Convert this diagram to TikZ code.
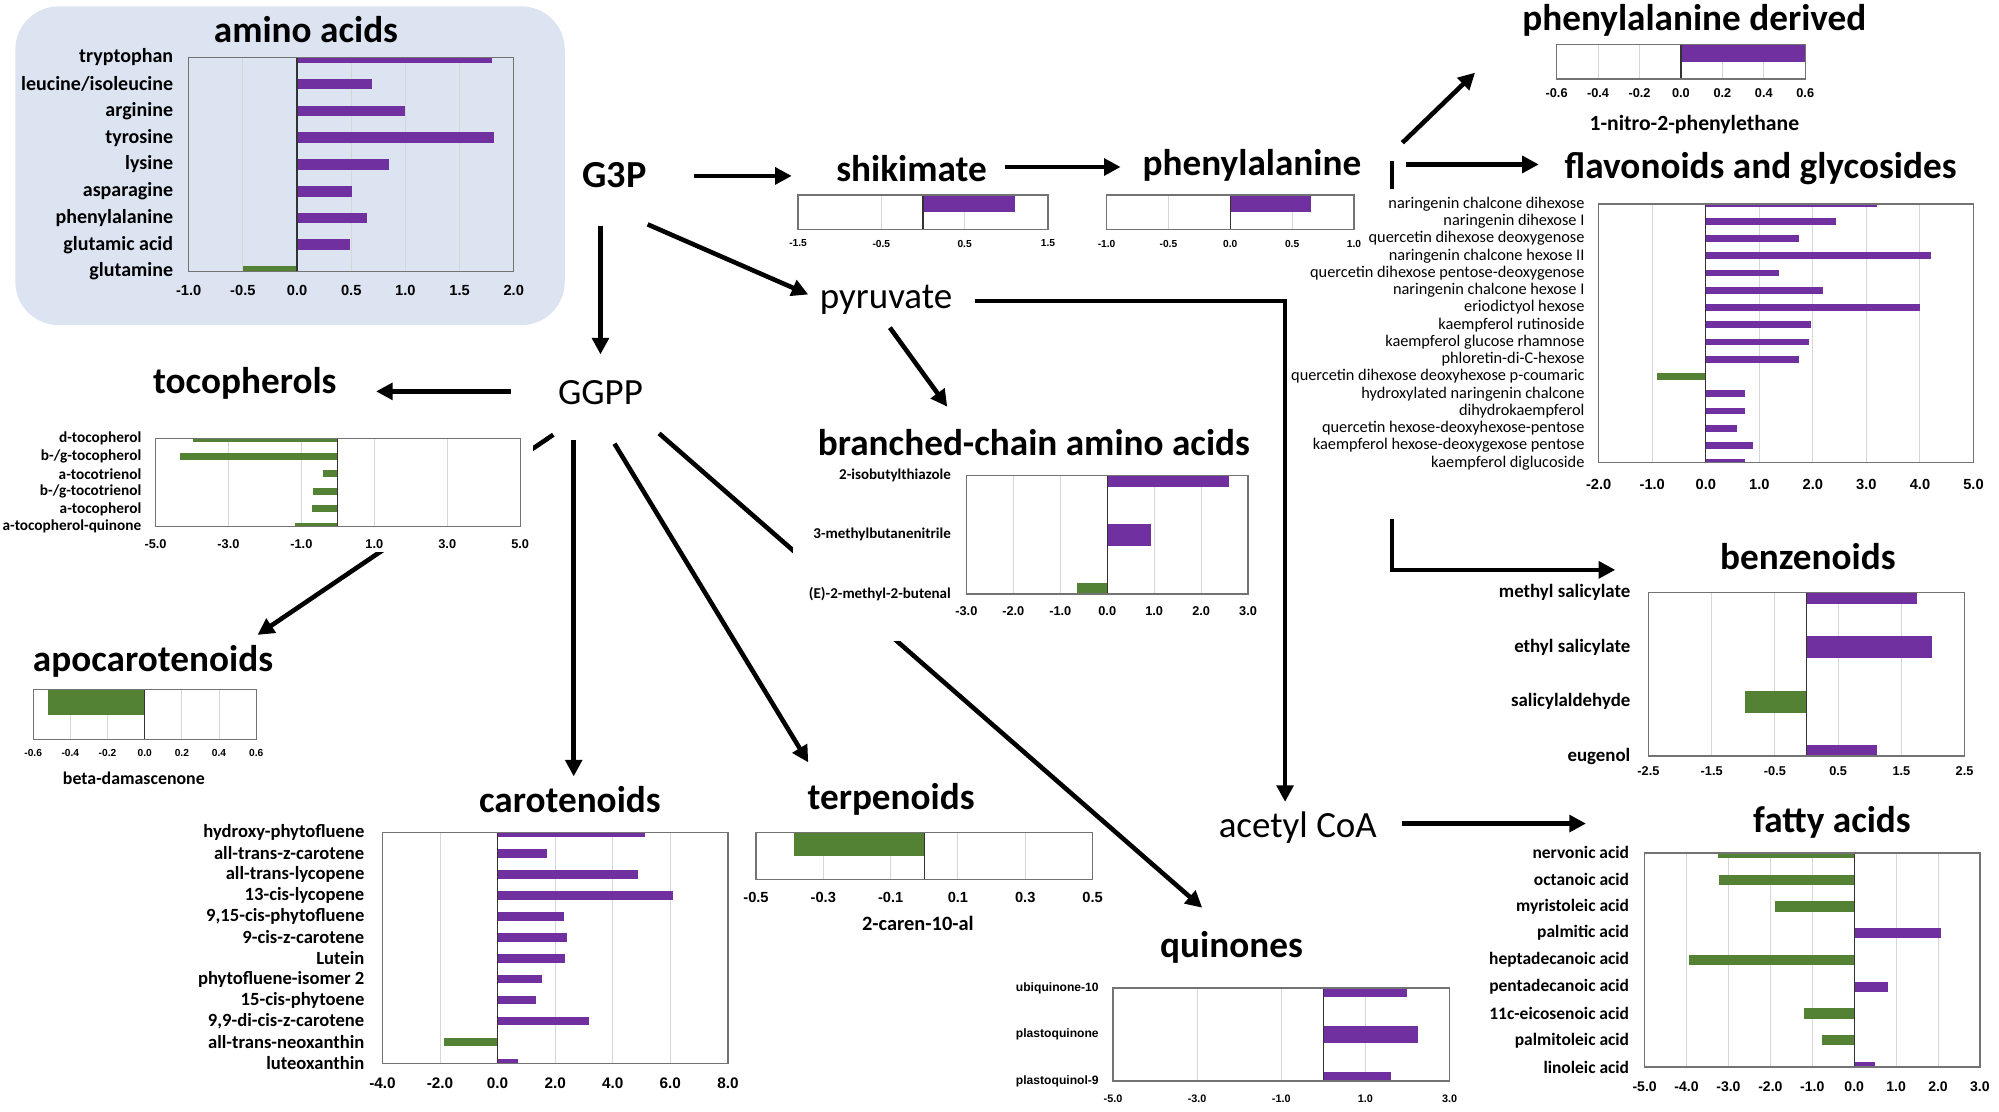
\documentclass[tikz,border=0pt]{standalone}
\usepackage{fontspec}
\setmainfont{Carlito}
\newfontfamily\arialf{Liberation Sans}
\usetikzlibrary{arrows.meta}

\definecolor{pos}{HTML}{7030A0}
\definecolor{neg}{HTML}{548235}
\definecolor{panelcol}{HTML}{DCE4F2}

\newcommand{\tkf}[1]{\arialf\bfseries\fontsize{#1}{#1}\selectfont}
\newcommand{\ctf}[1]{\bfseries\fontsize{#1}{#1}\selectfont}

\tikzset{
  flow/.style={line width=3.6pt, -{Triangle[length=13pt,width=13pt]}},
  cover/.style={fill=white},
  frame/.style={draw=black!55, line width=1pt},
  grid/.style={draw=black!16, line width=0.8pt},
  zero/.style={draw=black!80, line width=1pt},
  title/.style={font=\ctf{29.2}, inner sep=0pt, anchor=base},
  metab/.style={font=\fontsize{29}{29}\selectfont, inner sep=0pt, anchor=base},
  sub/.style={inner sep=0pt, anchor=base},
  catbase/.style={anchor=east, inner sep=0pt, xshift=-12pt},
}

% name, xmin, xmax, last row, grid, ticks, value/colour list, half bar
\newcommand{\hbars}[8]{%
  \foreach \gx in {#5} \draw[grid] (\gx,0) -- (\gx,#4);
  \begin{scope}
    \clip (#2,0) rectangle (#3,#4);
    \foreach \val/\bc [count=\i from 0] in {#7}
      \fill[fill=\bc] (0,\i-#8) rectangle (\val,\i+#8);
  \end{scope}
  \draw[zero] (0,0) -- (0,#4);
  \draw[frame] (#2,0) rectangle (#3,#4);
  \foreach \tk [count=\i] in {#6}
    \node[tick] (#1t\i) at (\tk,#4) {\tk};
}

\begin{document}
\begin{tikzpicture}[x=1pt, y=-1pt]
  \useasboundingbox (0,0) rectangle (1568,872);
  \fill[panelcol, rounded corners=34pt] (12,5) rectangle (443,255);

  % metabolites
  \node[metab, font=\ctf{30}] (g3p) at (482,147) {G3P};
  \node[metab] (ggpp) at (471,317) {GGPP};
  \node[metab] (pyr) at (695,242) {pyruvate};
  \node[metab] (acoa) at (1018,657) {acetyl CoA};

  % arrow ends
  \coordinate (g3pE) at (544,138);   \coordinate (shW) at (621,138);
  \coordinate (shE) at (788,131);    \coordinate (pheW) at (879,131);
  \coordinate (g3pS) at (471,177);   \coordinate (ggN) at (471,278);
  \coordinate (g3pSE) at (508,176);  \coordinate (pyNW) at (634,231);
  \coordinate (pyS) at (698,257);    \coordinate (bcN) at (743,319);
  \coordinate (pyE) at (765,236);    \coordinate (pyBend) at (1008,236);
  \coordinate (acN) at (1008,629);
  \coordinate (ggW) at (401,307);    \coordinate (toE) at (295,307);
  \coordinate (ggSW) at (434,341);   \coordinate (apNE) at (202,498);
  \coordinate (ggS) at (450,345);    \coordinate (caN) at (450,609);
  \coordinate (ggS2) at (482,348);   \coordinate (teN) at (634,598);
  \coordinate (ggSE) at (517,340);   \coordinate (quN) at (943,712);
  \coordinate (pheNE) at (1100,112); \coordinate (pdSW) at (1157,57);
  \coordinate (pheE) at (1103,129);  \coordinate (flW) at (1207,129);
  \coordinate (pheE2) at (1092,126); \coordinate (bzBend) at (1092,447);
  \coordinate (bzW) at (1267,447);
  \coordinate (acE) at (1100,646);   \coordinate (faW) at (1244,646);

  % arrows
  \draw[flow] (g3pE) -- (shW);
  \draw[flow] (shE) -- (pheW);
  \draw[flow] (g3pS) -- (ggN);
  \draw[flow] (g3pSE) -- (pyNW);
  \draw[flow] (pyS) -- (bcN);
  \draw[flow] (pyE) -- (pyBend) -- (acN);
  \draw[flow] (ggW) -- (toE);
  \draw[flow] (ggSW) -- (apNE);
  \draw[flow] (ggS) -- (caN);
  \draw[flow] (ggS2) -- (teN);
  \draw[flow] (ggSE) -- (quN);
  \draw[flow] (pheNE) -- (pdSW);
  \draw[flow] (pheE) -- (flW);
  \draw[flow] (pheE2) -- (bzBend) -- (bzW);
  \draw[flow] (acE) -- (faW);

  % charts hide the arrows behind them
  \fill[cover] (115,338) rectangle (418,433);
  \fill[cover] (622,362) rectangle (992,503);
  \fill[cover] (1011,148) rectangle (1562,407);

  % titles
  \node[title] (aaT) at (240,33) {amino acids};
  \node[title] (shT) at (715,142) {shikimate};
  \node[title] (pheT) at (982,138) {phenylalanine};
  \node[title] (pdT) at (1329,24) {phenylalanine derived};
  \node[title] (flT) at (1381,140) {flavonoids and glycosides};
  \node[title] (toT) at (192,309) {tocopherols};
  \node[title] (apT) at (120,527) {apocarotenoids};
  \node[title] (bcT) at (811,357) {branched-chain amino acids};
  \node[title] (bzT) at (1418,447) {benzenoids};
  \node[title] (faT) at (1437,653) {fatty acids};
  \node[title] (quT) at (966,751) {quinones};
  \node[title] (caT) at (447,637) {carotenoids};
  \node[title] (teT) at (699,635) {terpenoids};

  % amino acids
  \begin{scope}[shift={(233,45)}, x=85pt, y=-21pt,
      cat/.style={catbase, font=\ctf{15.7}}, tick/.style={yshift=-15pt, inner sep=0pt, font=\tkf{11.5}}]
    \hbars{aa}{-1}{2}{8}{-0.5,0.5,1.0,1.5}{-1.0,-0.5,0.0,0.5,1.0,1.5,2.0}
      {1.8/pos,0.69/pos,1.0/pos,1.82/pos,0.85/pos,0.51/pos,0.65/pos,0.49/pos,-0.5/neg}{0.2}
    \foreach \lab [count=\i from 0] in {tryptophan,leucine/isoleucine,arginine,tyrosine,lysine,
        asparagine,phenylalanine,glutamic acid,glutamine}
      \node[cat] (aac\i) at (-1,\i) {\lab};
  \end{scope}

  % shikimate
  \begin{scope}[shift={(724,153)}, x=65.33pt, y=-27pt,
      tick/.style={yshift=-11pt, inner sep=0pt, font=\tkf{8}}]
    \hbars{sh}{-1.5}{1.5}{1}{-0.5,0.5}{-1.5,-0.5,0.5,1.5}{1.11/pos}{0.5}
  \end{scope}

  % phenylalanine
  \begin{scope}[shift={(965,153)}, x=97pt, y=-27pt,
      tick/.style={yshift=-11pt, inner sep=0pt, font=\tkf{8}}]
    \hbars{ph}{-1}{1}{1}{-0.5,0.5}{-1.0,-0.5,0.0,0.5,1.0}{0.65/pos}{0.5}
  \end{scope}

  % phenylalanine derived
  \begin{scope}[shift={(1318.5,35)}, x=162.5pt, y=-27pt,
      tick/.style={yshift=-11pt, inner sep=0pt, font=\tkf{10}}]
    \hbars{pd}{-0.6}{0.6}{1}{-0.4,-0.2,0.2,0.4}{-0.6,-0.4,-0.2,0.0,0.2,0.4,0.6}{0.6/pos}{0.5}
  \end{scope}
  \node[sub, font=\ctf{17}] (pdS) at (1329,102) {1-nitro-2-phenylethane};

  % flavonoids and glycosides
  \begin{scope}[shift={(1338,160)}, x=42pt, y=-13.533pt,
      cat/.style={catbase, xshift=1pt, font=\fontsize{12.8}{12.8}\selectfont},
      tick/.style={yshift=-17pt, inner sep=0pt, font=\tkf{11.5}}]
    \hbars{fl}{-2}{5}{15}{-1,1,2,3,4}{-2.0,-1.0,0.0,1.0,2.0,3.0,4.0,5.0}
      {3.19/pos,2.44/pos,1.74/pos,4.21/pos,1.36/pos,2.18/pos,4.0/pos,1.96/pos,
       1.92/pos,1.74/pos,-0.91/neg,0.74/pos,0.74/pos,0.58/pos,0.89/pos,0.73/pos}{0.2}
    \foreach \lab [count=\i from 0] in {naringenin chalcone dihexose,naringenin dihexose I,
        quercetin dihexose deoxygenose,naringenin chalcone hexose II,
        quercetin dihexose pentose-deoxygenose,naringenin chalcone hexose I,eriodictyol hexose,
        kaempferol rutinoside,kaempferol glucose rhamnose,phloretin-di-C-hexose,
        quercetin dihexose deoxyhexose p-coumaric,hydroxylated naringenin chalcone,
        dihydrokaempferol,quercetin hexose-deoxyhexose-pentose,
        kaempferol hexose-deoxygexose pentose,kaempferol diglucoside}
      \node[cat] (flc\i) at (-2,\i) {\lab};
  \end{scope}

  % tocopherols
  \begin{scope}[shift={(265,344)}, x=28.6pt, y=-13.8pt,
      cat/.style={catbase, xshift=1pt, font=\ctf{12}}, tick/.style={yshift=-14pt, inner sep=0pt, font=\tkf{10}}]
    \hbars{to}{-5}{5}{5}{-3,-1,1,3}{-5.0,-3.0,-1.0,1.0,3.0,5.0}
      {-3.96/neg,-4.33/neg,-0.4/neg,-0.68/neg,-0.71/neg,-1.17/neg}{0.2}
    \foreach \lab [count=\i from 0] in {d-tocopherol,b-/g-tocopherol,a-tocotrienol,
        b-/g-tocotrienol,a-tocopherol,a-tocopherol-quinone}
      \node[cat] (toc\i) at (-5,\i) {\lab};
  \end{scope}

  % apocarotenoids
  \begin{scope}[shift={(113.5,541)}, x=145.8pt, y=-39pt,
      tick/.style={yshift=-11pt, inner sep=0pt, font=\tkf{8}}]
    \hbars{ap}{-0.6}{0.6}{1}{-0.4,-0.2,0.2,0.4}{-0.6,-0.4,-0.2,0.0,0.2,0.4,0.6}{-0.52/neg}{0.5}
  \end{scope}
  \node[sub, font=\ctf{14}] (apS) at (105,615) {beta-damascenone};

  % branched-chain amino acids
  \begin{scope}[shift={(868.5,373)}, x=36.83pt, y=-46.5pt,
      cat/.style={catbase, font=\ctf{11.8}}, tick/.style={yshift=-13pt, inner sep=0pt, font=\tkf{10}}]
    \hbars{bc}{-3}{3}{2}{-2,-1,1,2}{-3.0,-2.0,-1.0,0.0,1.0,2.0,3.0}
      {2.6/pos,0.93/pos,-0.65/neg}{0.19}
    \foreach \lab [count=\i from 0] in {2-isobutylthiazole,3-methylbutanenitrile,(E)-2-methyl-2-butenal}
      \node[cat] (bcc\i) at (-3,\i) {\lab};
  \end{scope}

  % benzenoids
  \begin{scope}[shift={(1417,465)}, x=49.6pt, y=-42.67pt,
      cat/.style={catbase, xshift=-2pt, font=\ctf{14.8}}, tick/.style={yshift=-12pt, inner sep=0pt, font=\tkf{10}}]
    \hbars{bz}{-2.5}{2.5}{3}{-1.5,-0.5,0.5,1.5}{-2.5,-1.5,-0.5,0.5,1.5,2.5}
      {1.75/pos,1.99/pos,-0.98/neg,1.11/pos}{0.2}
    \foreach \lab [count=\i from 0] in {methyl salicylate,ethyl salicylate,salicylaldehyde,eugenol}
      \node[cat] (bzc\i) at (-2.5,\i) {\lab};
  \end{scope}

  % fatty acids
  \begin{scope}[shift={(1454.4,669)}, x=32.875pt, y=-21pt,
      cat/.style={catbase, font=\ctf{13.7}}, tick/.style={yshift=-15pt, inner sep=0pt, font=\tkf{11}}]
    \hbars{fa}{-5}{3}{8}{-4,-3,-2,-1,1,2}{-5.0,-4.0,-3.0,-2.0,-1.0,0.0,1.0,2.0,3.0}
      {-3.26/neg,-3.22/neg,-1.9/neg,2.07/pos,-3.95/neg,0.81/pos,-1.2/neg,-0.77/neg,0.49/pos}{0.19}
    \foreach \lab [count=\i from 0] in {nervonic acid,octanoic acid,myristoleic acid,palmitic acid,
        heptadecanoic acid,pentadecanoic acid,11c-eicosenoic acid,palmitoleic acid,linoleic acid}
      \node[cat] (fac\i) at (-5,\i) {\lab};
  \end{scope}

  % quinones
  \begin{scope}[shift={(1038,775)}, x=33pt, y=-36.5pt,
      cat/.style={catbase, xshift=1pt, font=\tkf{9.5}}, tick/.style={yshift=-14pt, inner sep=0pt, font=\tkf{8.5}}]
    \hbars{qu}{-5}{3}{2}{-3,-1,1}{-5.0,-3.0,-1.0,1.0,3.0}{1.98/pos,2.24/pos,1.6/pos}{0.19}
    \foreach \lab [count=\i from 0] in {ubiquinone-10,plastoquinone,plastoquinol-9}
      \node[cat] (quc\i) at (-5,\i) {\lab};
  \end{scope}

  % carotenoids
  \begin{scope}[shift={(390.3,653)}, x=22.58pt, y=-16.45pt,
      cat/.style={catbase, xshift=-2pt, font=\ctf{14.6}}, tick/.style={yshift=-16pt, inner sep=0pt, font=\tkf{12}}]
    \hbars{ca}{-4}{8}{11}{-2,2,4,6}{-4.0,-2.0,0.0,2.0,4.0,6.0,8.0}
      {5.13/pos,1.71/pos,4.89/pos,6.09/pos,2.3/pos,2.4/pos,2.33/pos,1.53/pos,1.35/pos,
       3.18/pos,-1.87/neg,0.71/pos}{0.2}
    \foreach \lab [count=\i from 0] in {hydroxy-phytofluene,all-trans-z-carotene,all-trans-lycopene,
        13-cis-lycopene,{9,15-cis-phytofluene},9-cis-z-carotene,Lutein,phytofluene-isomer 2,
        15-cis-phytoene,{9,9-di-cis-z-carotene},all-trans-neoxanthin,luteoxanthin}
      \node[cat] (cac\i) at (-4,\i) {\lab};
  \end{scope}

  % terpenoids
  \begin{scope}[shift={(725,653)}, x=264pt, y=-37pt,
      tick/.style={yshift=-14pt, inner sep=0pt, font=\tkf{11.5}}]
    \hbars{te}{-0.5}{0.5}{1}{-0.3,-0.1,0.1,0.3}{-0.5,-0.3,-0.1,0.1,0.3,0.5}{-0.387/neg}{0.5}
  \end{scope}
  \node[sub, font=\ctf{16}] (teS) at (720,730) {2-caren-10-al};
\end{tikzpicture}
\end{document}
